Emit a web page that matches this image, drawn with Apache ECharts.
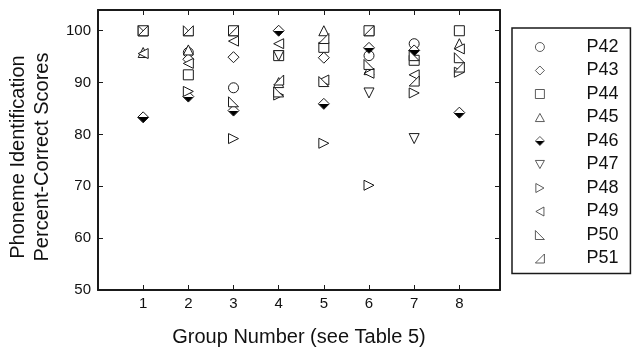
<!DOCTYPE html>
<html>
<head>
<meta charset="utf-8">
<script src="https://cdn.jsdelivr.net/npm/echarts@6/dist/echarts.min.js"></script>
<style>
  html, body { margin: 0; padding: 0; background: #fff; }
  #chart { width: 635px; height: 350px; }
</style>
</head>
<body>
<div id="chart"></div>
<script>
// Group numbers on the x axis
const groups = [1, 2, 3, 4, 5, 6, 7, 8];
const xTicks = [1, 2, 3, 4, 5, 6, 7, 8];
const yTicks = [50, 60, 70, 80, 90, 100];

// Percent-correct scores per participant, one value per group (null = not shown)
const P42 = [null, 95.8, 89.0, null, null, 95.2, 97.5, null];
const P43 = [null, 94.5, 94.9, null, 94.8, null, null, null];
const P44 = [100, 91.5, 100, 95.2, 96.8, 100, 94.3, 100];
const P45 = [95.8, 96.3, null, 90.0, 100, 92.5, null, 97.5];
const P46 = [83.3, 87.3, 84.6, 100, 85.9, 96.7, 96.2, 84.2];
const P47 = [null, null, null, 95.2, null, 88.0, 79.2, null];
const P48 = [null, 88.3, 79.2, 87.6, 78.3, 70.2, 88.0, 92.0];
const P49 = [95.6, 93.7, 98.0, 97.5, 90.5, 91.8, 91.5, 96.5];
const P50 = [100, 100, 86.3, 88.2, 90.2, 93.5, 95.2, 94.8];
const P51 = [100, 100, 100, 90.5, 98.5, 100, 90.3, 93.0];

const names = ['P42', 'P43', 'P44', 'P45', 'P46', 'P47', 'P48', 'P49', 'P50', 'P51'];
const scores = [P42, P43, P44, P45, P46, P47, P48, P49, P50, P51];

const INK = '#1a1a1a';
const FONT = 'Liberation Sans, Arial, sans-serif';

// Marker shapes, one per participant
const symbols = {
  P42: 'circle',
  P43: 'diamond',
  P44: 'rect',
  P45: 'path://M5,0 L10,9 L0,9 Z',
  P46: 'diamond',
  P47: 'path://M0,0 L10,0 L5,9 Z',
  P48: 'path://M0,0 L9,5 L0,10 Z',
  P49: 'path://M9,0 L0,5 L9,10 Z',
  P50: 'path://M0,0 L0,10 L10,10 Z',
  P51: 'path://M10,0 L10,10 L0,10 Z'
};

// Diamond with its lower half filled black
const halfFill = {
  type: 'linear', x: 0, y: 0, x2: 0, y2: 1,
  colorStops: [
    { offset: 0, color: '#ffffff' },
    { offset: 0.5, color: '#ffffff' },
    { offset: 0.5, color: '#000000' },
    { offset: 1, color: '#000000' }
  ]
};

const series = names.map((name, i) => ({
  name: name,
  type: 'scatter',
  xAxisIndex: 0,
  yAxisIndex: 0,
  symbol: symbols[name],
  symbolSize: (name === 'P43' || name === 'P46') ? 11 : 10,
  itemStyle: {
    color: name === 'P46' ? halfFill : '#ffffff',
    borderColor: INK,
    borderWidth: 1,
    opacity: 1
  },
  emphasis: { disabled: true },
  data: groups.map((g, k) => scores[i][k] == null ? null : [g, scores[i][k]]).filter(d => d)
}));

const axisCommon = {
  axisLine: { show: true, onZero: false, lineStyle: { color: INK, width: 2 } },
  axisTick: { show: true, inside: true, length: 5, lineStyle: { color: INK, width: 1 } },
  splitLine: { show: false }
};

const chart = echarts.init(document.getElementById('chart'), null, { renderer: 'canvas' });
chart.setOption({
  animation: false,
  backgroundColor: '#ffffff',
  textStyle: { fontFamily: FONT },
  grid: {
    left: 98, top: 10, right: 135, bottom: 60,
    containLabel: false, outerBoundsMode: 'none'
  },
  graphic: [{
    // two-line y axis title, rotated
    type: 'text',
    x: 30,
    y: 157,
    rotation: Math.PI / 2,
    style: {
      text: 'Phoneme Identification\nPercent-Correct Scores',
      font: '20px ' + FONT,
      lineHeight: 24,
      fill: '#111',
      align: 'center',
      verticalAlign: 'middle'
    }
  }],
  xAxis: [
    Object.assign({}, axisCommon, {
      type: 'value', position: 'bottom', min: 0, max: 8.9, interval: 1,
      name: 'Group Number (see Table 5)', nameLocation: 'middle', nameGap: 37,
      nameTextStyle: { fontSize: 20, color: '#111', fontFamily: FONT },
      axisLabel: {
        fontSize: 15, color: '#111', margin: 6, fontFamily: FONT,
        showMinLabel: false, showMaxLabel: false,
        formatter: v => xTicks.indexOf(v) >= 0 ? String(v) : ''
      }
    }),
    Object.assign({}, axisCommon, {
      type: 'value', position: 'top', min: 0, max: 8.9, interval: 1,
      axisLabel: { show: false }
    })
  ],
  yAxis: [
    Object.assign({}, axisCommon, {
      type: 'value', position: 'left', min: 50, max: 104, interval: 10,
      axisLabel: {
        fontSize: 15, color: '#111', margin: 7, fontFamily: FONT,
        showMaxLabel: false,
        formatter: v => yTicks.indexOf(v) >= 0 ? String(v) : ''
      }
    }),
    Object.assign({}, axisCommon, {
      type: 'value', position: 'right', min: 50, max: 104, interval: 10,
      axisLabel: { show: false }
    })
  ],
  legend: {
    orient: 'vertical',
    left: 512,
    top: 28,
    padding: [9, 12, 5, 23],
    itemGap: 3.5,
    itemWidth: 9,
    itemHeight: 9,
    borderColor: INK,
    borderWidth: 1.5,
    borderRadius: 0,
    selectedMode: false,
    data: names,
    itemStyle: { borderWidth: 0.8, borderColor: '#333' },
    textStyle: {
      fontSize: 18, color: '#111', lineHeight: 20,
      fontFamily: FONT, padding: [0, 0, 0, 37]
    }
  },
  series: series
});
</script>
</body>
</html>
